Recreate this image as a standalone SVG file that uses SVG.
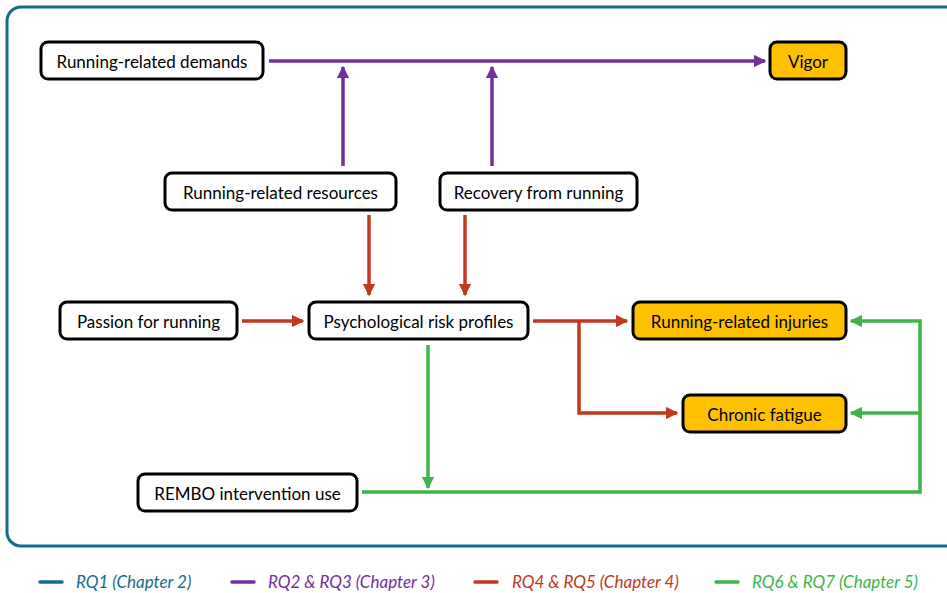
<svg xmlns="http://www.w3.org/2000/svg" width="947" height="593" viewBox="0 0 947 593">
<defs>
<style>
.frame{fill:none;stroke:#156b8f;stroke-width:3}
.node rect{fill:#fff;stroke:#000;stroke-width:3}
.node.out rect{fill:#ffc000}
.node text{font-family:Lato,"Open Sans",sans-serif;font-size:17px;fill:#000;text-anchor:middle;dominant-baseline:central}
.c{fill:none;stroke-width:3.5}
.p{stroke:#7030a0}
.r{stroke:#c0391e}
.g{stroke:#3cb54a}
.t{stroke:#156b8f}
.leg text{font-family:Lato,"Open Sans",sans-serif;font-size:17px;font-style:italic}
</style>
<marker id="ap" viewBox="0 0 10 10" refX="9" refY="5" markerWidth="3.6" markerHeight="3.6" orient="auto" markerUnits="strokeWidth"><path d="M0,0L10,5L0,10z" fill="#7030a0"/></marker>
<marker id="ar" viewBox="0 0 10 10" refX="9" refY="5" markerWidth="3.6" markerHeight="3.6" orient="auto" markerUnits="strokeWidth"><path d="M0,0L10,5L0,10z" fill="#c0391e"/></marker>
<marker id="ag" viewBox="0 0 10 10" refX="9" refY="5" markerWidth="3.6" markerHeight="3.6" orient="auto" markerUnits="strokeWidth"><path d="M0,0L10,5L0,10z" fill="#3cb54a"/></marker>
</defs>
<rect width="947" height="593" fill="#fff"/>
<rect class="frame" x="7" y="7" width="960" height="539" rx="14"/>
<g id="connectors">
<path class="c p" d="M269,61H765" marker-end="url(#ap)"/>
<path class="c p" d="M343,166V67" marker-end="url(#ap)"/>
<path class="c p" d="M492,166V67" marker-end="url(#ap)"/>
<path class="c r" d="M369,215V295" marker-end="url(#ar)"/>
<path class="c r" d="M465,215V295" marker-end="url(#ar)"/>
<path class="c r" d="M242,321H303" marker-end="url(#ar)"/>
<path class="c r" d="M533,321H627" marker-end="url(#ar)"/>
<path class="c r" d="M579,321V413H677" marker-end="url(#ar)"/>
<path class="c g" d="M428,345V488" marker-end="url(#ag)"/>
<path class="c g" d="M362,492H920V321H851" marker-end="url(#ag)"/>
<path class="c g" d="M920,413H851" marker-end="url(#ag)"/>
</g>
<g id="n-demands" class="node"><rect x="41" y="42" width="222" height="37" rx="7"/><text x="152" y="61">Running-related demands</text></g>
<g id="n-vigor" class="node out"><rect x="770" y="42" width="76" height="37" rx="7"/><text x="808" y="61">Vigor</text></g>
<g id="n-resources" class="node"><rect x="165" y="173" width="231" height="37" rx="7"/><text x="280.5" y="192">Running-related resources</text></g>
<g id="n-recovery" class="node"><rect x="440" y="173" width="197" height="37" rx="7"/><text x="538.5" y="192">Recovery from running</text></g>
<g id="n-passion" class="node"><rect x="60" y="302" width="177" height="37" rx="7"/><text x="148.5" y="321">Passion for running</text></g>
<g id="n-profiles" class="node"><rect x="309" y="302" width="219" height="37" rx="7"/><text x="418.5" y="321">Psychological risk profiles</text></g>
<g id="n-injuries" class="node out"><rect x="633" y="302" width="213" height="37" rx="7"/><text x="739.5" y="321">Running-related injuries</text></g>
<g id="n-fatigue" class="node out"><rect x="683" y="395" width="163" height="37" rx="7"/><text x="764.5" y="414">Chronic fatigue</text></g>
<g id="n-rembo" class="node"><rect x="138" y="474" width="219" height="37" rx="7"/><text x="247.5" y="493">REMBO intervention use</text></g>
<g id="legend" class="leg">
<path class="c t" d="M40,582H62" stroke-linecap="round"/>
<text x="76" y="588" fill="#156b8f">RQ1 (Chapter 2)</text>
<path class="c p" d="M232,582H254" stroke-linecap="round"/>
<text x="268" y="588" fill="#7030a0">RQ2 &amp; RQ3 (Chapter 3)</text>
<path class="c r" d="M475,582H497" stroke-linecap="round"/>
<text x="512" y="588" fill="#c0391e">RQ4 &amp; RQ5 (Chapter 4)</text>
<path class="c g" d="M716,582H738" stroke-linecap="round"/>
<text x="752" y="588" fill="#3cb54a">RQ6 &amp; RQ7 (Chapter 5)</text>
</g>
</svg>
